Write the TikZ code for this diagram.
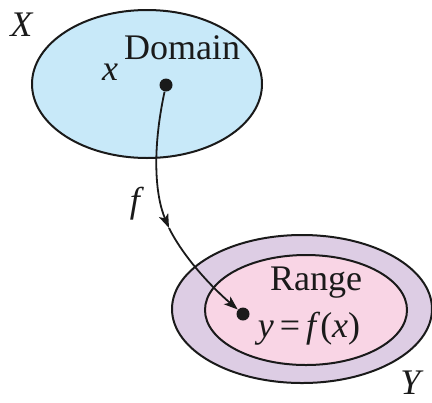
\documentclass[tikz,border=0pt]{standalone}
\usepackage{fontspec}
\setmainfont{Liberation Serif}
\usetikzlibrary{arrows.meta, positioning, calc}
\definecolor{dombl}{HTML}{C8E9F9}
\definecolor{codlil}{HTML}{DDCDE4}
\definecolor{rngpk}{HTML}{F9D5E5}
\definecolor{ink}{HTML}{1A1A1A}

\begin{document}
\begin{tikzpicture}[
  x=0.5pt, y=-0.5pt,
  >={Stealth[length=7pt, width=5pt, inset=1.8pt]},
  setell/.style={draw=ink, line width=1pt, fill=#1},
  pt/.style={circle, fill=ink, inner sep=0pt, minimum size=6.5pt},
  arr/.style={->, line width=0.9pt, ink},
  lbl/.style={font=\fontsize{18}{21}\selectfont, text=ink, anchor=base, inner sep=0pt},
]

% Frame
\useasboundingbox (0,0) rectangle (432,402);

% Sets
\draw[setell=dombl] (147,84) ellipse [x radius=115, y radius=74];
\draw[setell=codlil] (302,309) ellipse [x radius=130, y radius=74];
\draw[setell=rngpk] (306,310) ellipse [x radius=101, y radius=55];

% Labels
\node[lbl] (setX) at (22,36) {\textit{X}};
\node[lbl] (dom) at (182,59) {Domain};
\node[lbl] (xlbl) at (110,80) {\textit{x}};
\node[lbl] (flbl) at (137,212) {\textit{f}};
\node[lbl] (rng) at (316,290) {Range};
\node[lbl] (ylbl) at (309,337) {\textit{y}\,=\,\textit{f}(\textit{x})};
\node[lbl] (setY) at (412,394) {\textit{Y}};

% Points
\node[pt] (xpt) at (166,85) {};
\node[pt] (ypt) at (243,314) {};

% Map
\coordinate (fmid) at (169,228);
\draw[arr] (xpt) .. controls (152,150) and (155,195) .. (fmid);
\draw[arr] (fmid) .. controls (185,260) and (215,290) .. (ypt);

\end{tikzpicture}
\end{document}
